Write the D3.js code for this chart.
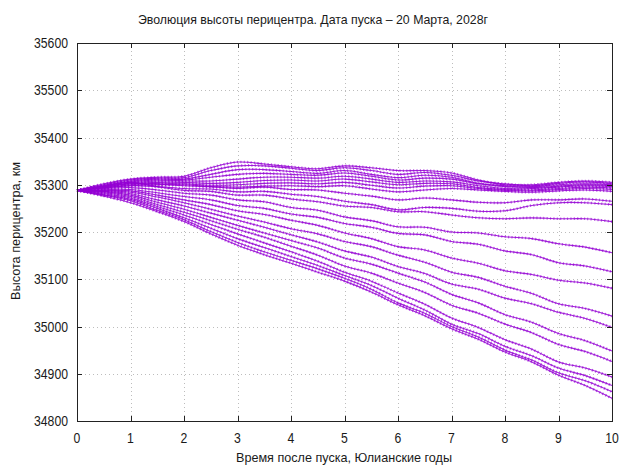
<!DOCTYPE html>
<html><head><meta charset="utf-8">
<script src="https://cdn.jsdelivr.net/npm/d3@7/dist/d3.min.js"></script>
<style>
body{margin:0;background:#fff}
svg{display:block}
text{font-family:"Liberation Sans",Arial,sans-serif;fill:#1a1a1a}
</style>
</head><body>
<svg id="c" width="621" height="465"></svg>
<script>
const titleText = "Эволюция высоты перицентра. Дата пуска – 20 Марта, 2028г";
const xLabelText = "Время после пуска, Юлианские годы";
const yLabelText = "Высота перицентра, км";
const xTicks = [0,1,2,3,4,5,6,7,8,9,10];
const yTicks = [34800,34900,35000,35100,35200,35300,35400,35500,35600];
const years = [0,0.5,1,1.5,2,2.5,3,3.5,4,4.5,5,5.5,6,6.5,7,7.5,8,8.5,9,9.5,10];

// perigee altitude (km) of each run, read at every half year
const series = [
 [35288,35302,35312,35316,35318,35336,35348,35344,35338,35334,35340,35336,35330,35330,35325,35310,35300,35300,35305,35308,35305],
 [35288,35300,35310,35314,35315,35330,35340,35340,35335,35330,35336,35330,35322,35326,35320,35308,35302,35298,35303,35306,35302],
 [35288,35298,35308,35312,35312,35322,35332,35332,35328,35324,35330,35322,35315,35320,35316,35303,35296,35296,35300,35302,35300],
 [35288,35297,35306,35310,35310,35316,35322,35324,35322,35320,35325,35318,35310,35314,35312,35302,35298,35294,35297,35300,35298],
 [35288,35296,35304,35308,35308,35308,35312,35316,35316,35314,35318,35312,35305,35308,35306,35298,35292,35292,35295,35298,35296],
 [35288,35295,35302,35305,35305,35303,35305,35309,35310,35308,35312,35306,35300,35303,35302,35294,35290,35289,35292,35295,35293],
 [35288,35294,35300,35303,35302,35299,35300,35303,35304,35302,35305,35299,35293,35297,35298,35292,35288,35287,35290,35292,35290],
 [35288,35293,35298,35300,35300,35296,35295,35297,35298,35296,35298,35291,35285,35289,35292,35289,35286,35284,35287,35289,35286],
 [35288,35296,35302,35301,35298,35296,35292,35295,35290,35289,35282,35276,35268,35272,35268,35263,35262,35268,35268,35270,35265],
 [35288,35294,35298,35296,35292,35291,35285,35286,35280,35275,35265,35258,35247,35252,35250,35244,35245,35256,35262,35262,35258],
 [35288,35298,35305,35296,35288,35286,35278,35278,35270,35264,35255,35252,35243,35243,35236,35230,35228,35230,35228,35228,35222],
 [35288,35292,35294,35289,35282,35278,35268,35264,35252,35246,35232,35224,35211,35210,35200,35198,35190,35186,35175,35168,35156],
 [35288,35290,35290,35283,35275,35268,35256,35250,35238,35231,35218,35210,35197,35194,35180,35174,35160,35152,35135,35128,35116],
 [35288,35288,35287,35278,35268,35258,35245,35237,35225,35214,35198,35186,35169,35162,35145,35134,35118,35110,35098,35092,35081],
 [35288,35287,35284,35274,35262,35248,35234,35221,35207,35196,35180,35169,35151,35136,35115,35104,35085,35070,35048,35038,35022],
 [35288,35286,35281,35268,35255,35240,35225,35210,35194,35179,35160,35147,35127,35112,35090,35079,35060,35048,35030,35017,34998],
 [35288,35285,35278,35263,35248,35231,35214,35198,35182,35166,35145,35132,35113,35094,35068,35050,35025,35009,34985,34970,34948],
 [35288,35283,35275,35258,35242,35224,35206,35189,35170,35151,35128,35113,35092,35072,35045,35028,35005,34987,34962,34947,34926],
 [35288,35281,35272,35254,35236,35216,35196,35177,35158,35138,35115,35096,35071,35047,35018,34998,34972,34952,34925,34912,34893],
 [35288,35279,35269,35250,35230,35208,35186,35167,35148,35129,35108,35087,35060,35035,35005,34985,34958,34938,34912,34896,34875],
 [35288,35278,35266,35246,35226,35201,35178,35158,35140,35122,35102,35079,35050,35028,35000,34978,34950,34929,34902,34885,34862],
 [35288,35276,35262,35243,35222,35196,35172,35152,35134,35115,35096,35073,35046,35023,34995,34973,34946,34925,34897,34875,34848]
];

const svg = d3.select("#c");
const L = 77, R = 612, T = 43, B = 421;
const x = d3.scaleLinear().domain([0,10]).range([L,R]);
const y = d3.scaleLinear().domain([34800,35600]).range([B,T]);

// grid
const grid = svg.append("g").attr("stroke","#bdbdbd").attr("stroke-width",1).attr("stroke-dasharray","1,3");
xTicks.slice(1,-1).forEach(t=>grid.append("line").attr("x1",Math.round(x(t))+0.5).attr("x2",Math.round(x(t))+0.5).attr("y1",T).attr("y2",B));
yTicks.slice(1,-1).forEach(t=>grid.append("line").attr("y1",Math.round(y(t))+0.5).attr("y2",Math.round(y(t))+0.5).attr("x1",L).attr("x2",R));

// lines with dense point-like beading
const line = d3.line().x((d,i)=>x(years[i])).y(d=>y(d)).curve(d3.curveCatmullRom.alpha(0.5));
const lg = svg.append("g").attr("fill","none");
series.forEach(s=>{
  lg.append("path").attr("d",line(s)).attr("stroke","#9400d3").attr("stroke-width",1.1).attr("stroke-opacity",0.85);
  lg.append("path").attr("d",line(s)).attr("stroke","#9400d3").attr("stroke-width",2.6).attr("stroke-opacity",0.6).attr("stroke-dasharray","1.2,2.2");
});

// axes (ticks inward, mirrored)
const tl = 5;
const ax = svg.append("g").attr("stroke","#222").attr("stroke-width",1);
xTicks.forEach(t=>{
  const xx = Math.round(x(t))+0.5;
  ax.append("line").attr("x1",xx).attr("x2",xx).attr("y1",B).attr("y2",B-tl);
  ax.append("line").attr("x1",xx).attr("x2",xx).attr("y1",T).attr("y2",T+tl);
});
yTicks.forEach(t=>{
  const yy = Math.round(y(t))+0.5;
  ax.append("line").attr("y1",yy).attr("y2",yy).attr("x1",L).attr("x2",L+tl);
  ax.append("line").attr("y1",yy).attr("y2",yy).attr("x1",R).attr("x2",R-tl);
});
svg.append("rect").attr("x",L+0.5).attr("y",T+0.5).attr("width",R-L).attr("height",B-T)
  .attr("fill","none").attr("stroke","#222").attr("stroke-width",1);

// tick labels (narrow, tall digits)
const fs = 14, dw = 6.8;
svg.append("g").selectAll("text").data(xTicks).join("text")
  .attr("x",d=>x(d)).attr("y",B+22).attr("text-anchor","middle").attr("font-size",fs)
  .attr("textLength",d=>String(d).length*dw).attr("lengthAdjust","spacingAndGlyphs").text(d=>d);
svg.append("g").selectAll("text").data(yTicks).join("text")
  .attr("x",L-9).attr("y",d=>y(d)+5).attr("text-anchor","end").attr("font-size",fs)
  .attr("textLength",d=>String(d).length*dw).attr("lengthAdjust","spacingAndGlyphs").text(d=>d);

// titles
svg.append("text").attr("x",313).attr("y",24).attr("text-anchor","middle").attr("font-size",13.5)
  .attr("textLength",350).attr("lengthAdjust","spacingAndGlyphs").text(titleText);
svg.append("text").attr("x",344).attr("y",462).attr("text-anchor","middle").attr("font-size",13.5)
  .attr("textLength",216).attr("lengthAdjust","spacingAndGlyphs").text(xLabelText);
svg.append("text").attr("transform","translate(20,231) rotate(-90)").attr("text-anchor","middle").attr("font-size",13.5)
  .attr("textLength",138).attr("lengthAdjust","spacingAndGlyphs").text(yLabelText);
</script>
</body></html>
